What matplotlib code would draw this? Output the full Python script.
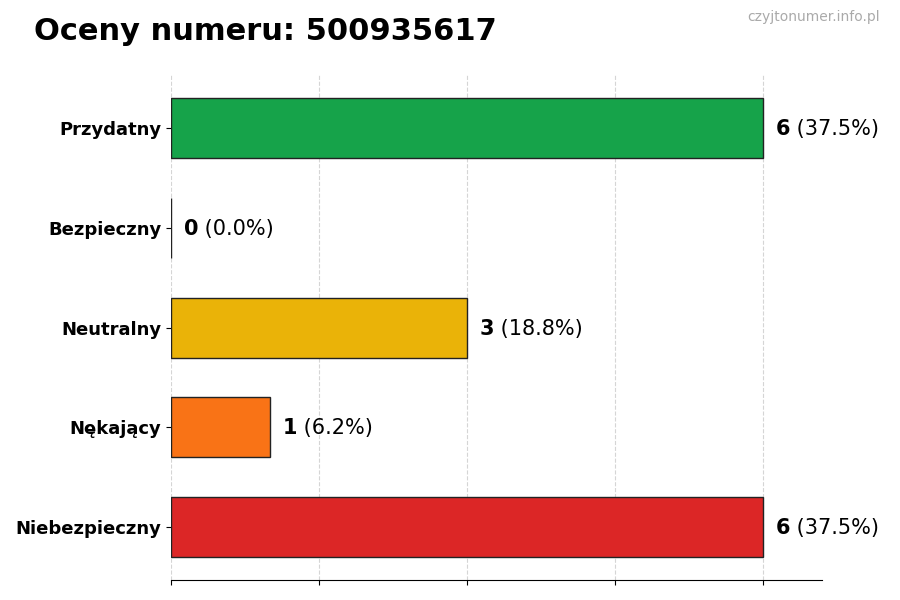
import matplotlib
matplotlib.use("Agg")
import matplotlib.pyplot as plt

# data (bottom to top as drawn)
categories = ["Niebezpieczny", "Nękający", "Neutralny", "Bezpieczny", "Przydatny"]
counts = [6, 1, 3, 0, 6]
colors = ["#dc2626", "#f97316", "#eab308", "#0ea5e9", "#16a34a"]
number = "500935617"

total = sum(counts)

fig, ax = plt.subplots(figsize=(9, 6), dpi=100)
fig.subplots_adjust(left=0.19, right=0.913, top=0.875, bottom=0.033)

ax.barh(categories, counts, height=0.6, color=colors, edgecolor="#222222", linewidth=1.0, zorder=3)

ax.set_xlim(0, max(counts) * 1.1)
ax.set_xticks([0, 1.5, 3, 4.5, 6])
ax.set_xticklabels([])
ax.grid(axis="x", linestyle="--", color="#d5d5d5", linewidth=0.8, zorder=0)

for s in ["top", "right", "left"]:
    ax.spines[s].set_visible(False)

for lbl in ax.get_yticklabels():
    lbl.set_fontweight("bold")
    lbl.set_fontsize(13)

# value labels: bold count + plain percentage
for i, c in enumerate(counts):
    pct = c / total * 100 if total else 0
    t = ax.text(c + 0.13, i - 0.01, f"{c}", fontsize=15, fontweight="bold", va="center", ha="left")
    ax.annotate(f" ({pct:.1f}%)", xycoords=t, xy=(1, 0.5), va="center", ha="left", fontsize=15)

fig.text(0.038, 0.948, f"Oceny numeru: {number}", fontsize=22, fontweight="bold", va="center", ha="left")
fig.text(0.978, 0.971, "czyjtonumer.info.pl", fontsize=10, color="#aaaaaa", va="center", ha="right")

fig.savefig("out.png", dpi=100)
